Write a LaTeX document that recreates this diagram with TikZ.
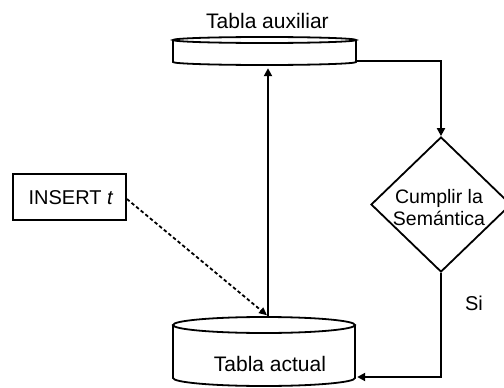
\documentclass[tikz,border=0pt]{standalone}
\usepackage{fontspec}
\setmainfont{Liberation Sans}
\usetikzlibrary{shapes.geometric,arrows.meta,calc}
\begin{document}
\begin{tikzpicture}[x=1pt,y=-1pt,
  every node/.style={font=\fontsize{20}{22}\selectfont},
  big/.style={font=\fontsize{21}{24}\selectfont},
  small/.style={font=\fontsize{19.5}{22}\selectfont},
  outline/.style={line width=1.8pt},
  link/.style={line width=2.4pt, -{Triangle[length=8pt,width=8pt]}},
  hint/.style={line width=1.8pt, dash pattern=on 3.5pt off 2.5pt, -{Triangle[length=8pt,width=7pt]}},
  slot/.style={rectangle, inner sep=0pt},
]
\path[fill=white] (0,0) rectangle (504,388);
\clip (0,0) rectangle (504,388);

% Tabla auxiliar: flat cylinder
\node[slot, minimum width=183pt, minimum height=28pt] (aux) at (264.5,51) {};
\draw[outline] (264.5,40) ellipse [x radius=91.5pt, y radius=3pt];
\draw[outline] (173,40) -- (173,62)
  arc[start angle=180, end angle=360, x radius=91.5pt, y radius=3pt] -- (356,40);
\node[big, anchor=base] (auxlbl) at (267.5,28) {Tabla auxiliar};

% Tabla actual: cylinder
\node[slot, minimum width=182pt, minimum height=70pt] (act) at (264,351.5) {};
\draw[outline] (264,325) ellipse [x radius=91pt, y radius=8pt];
\draw[outline] (173,325) -- (173,378)
  arc[start angle=180, end angle=360, x radius=91pt, y radius=8pt] -- (355,325);
\node[big, anchor=base] (actlbl) at (270,371) {Tabla actual};

% INSERT t
\node[draw, outline, slot, minimum width=113pt, minimum height=46pt] (ins) at (69.5,197) {};
\node[anchor=base] (instxt) at (71,204) {INSERT \textit{t}};

% Decision
\node[diamond, draw, outline, inner sep=0pt, minimum width=140pt, minimum height=135pt] (sem) at (441,204.5) {};
\node[small, align=center] (semtxt) at (439,207.5) {Cumplir la\\Semántica};
\node[anchor=base] (si) at (474,310) {Si};

% Connectors
\draw[link] ($(act.north)+(4,0)$) -- ($(aux.south)+(3.5,3)$);
\draw[link] ($(aux.east)+(0,10)$) -| (sem.north);
\draw[link] (sem.south) |- ($(act.east)+(2,25.5)$);
\draw[hint] ($(ins.east)+(0,2)$) -- ($(act.north)+(3,-1)$);
\end{tikzpicture}
\end{document}
